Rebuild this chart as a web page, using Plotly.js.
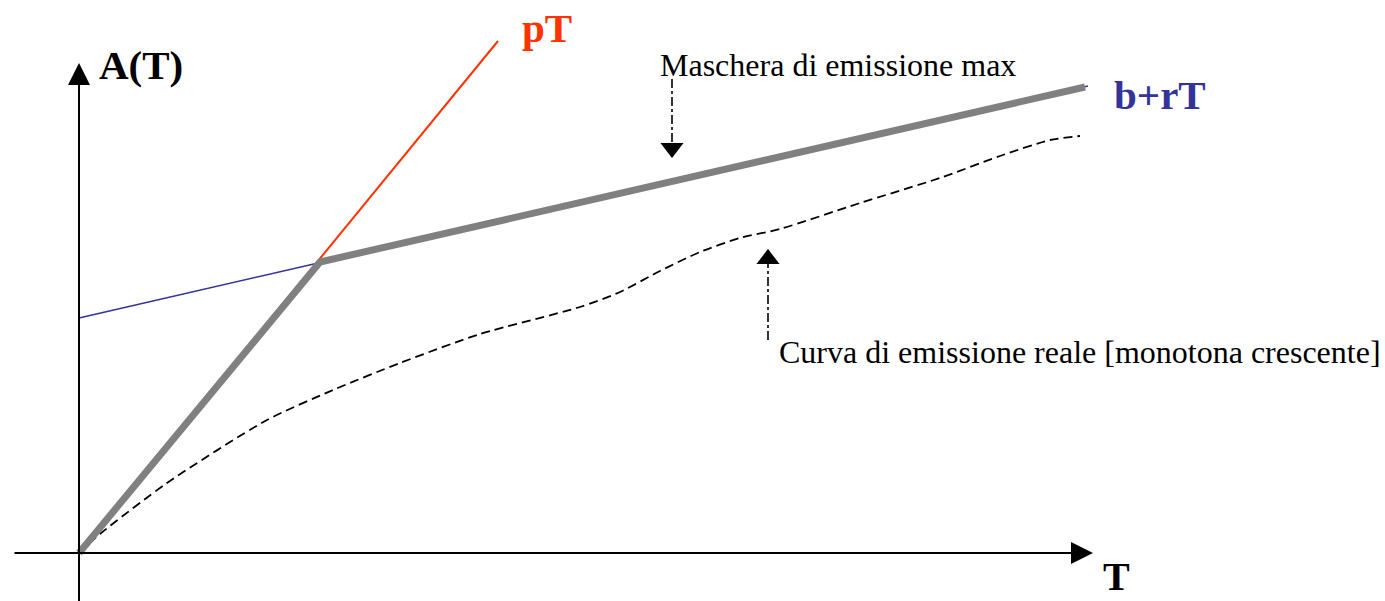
<!DOCTYPE html>
<html>
<head>
<meta charset="utf-8">
<script src="https://cdn.plot.ly/plotly-3.0.1.min.js"></script>
<style>html,body{margin:0;padding:0;background:#fff;}#chart{width:1385px;height:601px;}</style>
</head>
<body>
<div id="chart"></div>
<script>
// Abstract units (T, A)
const pT_T = [0, 4.19];
const pT_A = [0, 5.12];
const brT_T = [0, 10.09];
const brT_A = [2.35, 4.67];
const mask_T = [0, 2.41, 10.06];
const mask_A = [0, 2.91, 4.66];
const real_T = [0, 0.21, 0.88, 1.88, 2.54, 3.21, 4.01, 5.01, 5.41, 5.81, 6.21, 6.61, 7.01, 7.81, 8.61, 9.21, 9.71, 10.01];
const real_A = [0, 0.19, 0.70, 1.33, 1.63, 1.90, 2.19, 2.46, 2.61, 2.82, 3.01, 3.15, 3.24, 3.50, 3.75, 3.97, 4.13, 4.17];
// axis arrows [tail, tip]
const xAxisT = [-0.66, 10.14];
const yAxisA = [-0.50, 4.90];
// pointer arrows (dash-dot) : T position, [tail A, head A]
const maskPtrT = 5.93;
const maskPtrA = [4.74, 4.05];
const realPtrT = 6.89;
const realPtrA = [2.13, 2.94];
// labels
const labels = [
  {text: "<b>A(T)</b>", T: 0.62, A: 4.88, size: 41, color: "#000000", anchor: "center", v: "middle"},
  {text: "<b>pT</b>", T: 4.68, A: 5.25, size: 41, color: "#FF3300", anchor: "center", v: "middle"},
  {text: "<b>b+rT</b>", T: 10.81, A: 4.58, size: 41, color: "#333399", anchor: "center", v: "middle"},
  {text: "<b>T</b>", T: 10.37, A: -0.475, size: 40, color: "#000000", anchor: "center", v: "bottom"},
  {text: "Maschera di emissione max", T: 5.79, A: 4.88, size: 32, color: "#000000", anchor: "left", v: "middle"},
  {text: "Curva di emissione reale [monotona crescente]", T: 6.98, A: 2.01, size: 32, color: "#000000", anchor: "left", v: "middle"}
];

const traces = [
  {x: brT_T, y: brT_A, mode: "lines", line: {color: "#333399", width: 1.6}, hoverinfo: "skip"},
  {x: pT_T, y: pT_A, mode: "lines", line: {color: "#FF3300", width: 2}, hoverinfo: "skip"},
  {x: real_T, y: real_A, mode: "lines", line: {color: "#000000", width: 1.8, dash: "9px,5px", shape: "spline", smoothing: 0.7}, hoverinfo: "skip"},
  {x: mask_T, y: mask_A, mode: "lines", line: {color: "#808080", width: 7}, hoverinfo: "skip"},
  {x: [maskPtrT, maskPtrT], y: maskPtrA, mode: "lines", line: {color: "#000000", width: 1.6, dash: "dashdot"}, hoverinfo: "skip"},
  {x: [realPtrT, realPtrT], y: realPtrA, mode: "lines", line: {color: "#000000", width: 1.6, dash: "dashdot"}, hoverinfo: "skip"},
  {x: [maskPtrT], y: [maskPtrA[1]], mode: "markers", marker: {symbol: "triangle-down", size: 20, color: "#000000", line: {width: 0}}, hoverinfo: "skip"},
  {x: [realPtrT], y: [realPtrA[1]], mode: "markers", marker: {symbol: "triangle-up", size: 20, color: "#000000", line: {width: 0}}, hoverinfo: "skip"}
];

const annotations = labels.map(l => ({
  x: l.T, y: l.A, xref: "x", yref: "y", text: l.text, showarrow: false,
  xanchor: l.anchor, yanchor: l.v,
  font: {family: "Liberation Serif, Times New Roman, serif", size: l.size, color: l.color}
}));
annotations.push({
  x: xAxisT[1], y: 0, ax: xAxisT[0], ay: 0, xref: "x", yref: "y", axref: "x", ayref: "y",
  text: "", showarrow: true, arrowhead: 2, arrowsize: 2.2, arrowwidth: 2, arrowcolor: "#000000"
});
annotations.push({
  x: 0, y: yAxisA[1], ax: 0, ay: yAxisA[0], xref: "x", yref: "y", axref: "x", ayref: "y",
  text: "", showarrow: true, arrowhead: 2, arrowsize: 2.2, arrowwidth: 2, arrowcolor: "#000000"
});

const layout = {
  width: 1385, height: 601,
  margin: {l: 0, r: 0, t: 0, b: 0},
  paper_bgcolor: "#ffffff", plot_bgcolor: "#ffffff",
  showlegend: false,
  xaxis: {range: [-0.79, 13.06], visible: false, fixedrange: true},
  yaxis: {range: [-0.48, 5.53], visible: false, fixedrange: true},
  annotations: annotations
};

Plotly.newPlot("chart", traces, layout, {displayModeBar: false, staticPlot: true});
</script>
</body>
</html>
